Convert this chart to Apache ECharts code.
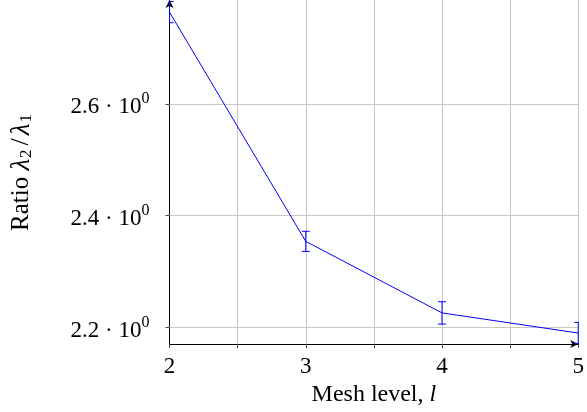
<!DOCTYPE html>
<html>
<head>
<meta charset="utf-8">
<script src="https://cdn.jsdelivr.net/npm/echarts@6/dist/echarts.min.js"></script>
<style>html,body{margin:0;padding:0;background:#fff}#c{width:587px;height:412px}</style>
</head>
<body>
<div id="c"></div>
<script>
const levels = [2, 3, 4, 5];
const ratio = [2.764, 2.354, 2.226, 2.190];
const ratioErr = [0.019, 0.018, 0.020, 0.019];
const yTicks = [2.2, 2.4, 2.6];
const yTickLabels = ['2.2', '2.4', '2.6'];

const FONT = 'Liberation Serif';
const FS = 23;
const chart = echarts.init(document.getElementById('c'), null, {renderer: 'canvas'});

const lineData = levels.map((l, i) => [l, ratio[i]]);
const errData = levels.map((l, i) => [l, ratio[i] - ratioErr[i], ratio[i] + ratioErr[i]]);

chart.setOption({
  animation: false,
  grid: {left: 169, right: 3, top: 0, bottom: 68, containLabel: false},
  xAxis: {
    type: 'value', min: 2, max: 5, interval: 0.5,
    name: 'Mesh level, {it|l}',
    nameLocation: 'middle', nameGap: 35,
    nameTextStyle: {fontFamily: FONT, fontSize: 24, color: '#000',
      rich: {it: {fontFamily: FONT, fontStyle: 'italic', fontSize: 24, color: '#000'}}},
    axisLine: {show: true, lineStyle: {color: '#000', width: 1}, symbol: ['none', 'arrow'], symbolSize: [6, 8], symbolOffset: [0, 0]},
    axisTick: {show: true, inside: false, length: 4, lineStyle: {color: '#444'}},
    axisLabel: {fontFamily: FONT, fontSize: FS, color: '#000', margin: 11,
      formatter: v => (Math.abs(v - Math.round(v)) < 1e-9 ? String(Math.round(v)) : '')},
    splitLine: {show: true, lineStyle: {color: '#c8c8c8', width: 1}}
  },
  yAxis: {
    type: 'value', min: 2.1704, max: 2.7857,
    name: '{n|Ratio }{it|λ}{sub|2}{sl|/}{it|λ}{sub|1}',
    nameLocation: 'middle', nameGap: 134, nameRotate: 90,
    nameTextStyle: {fontFamily: FONT, fontSize: 24, color: '#000',
      rich: {
        it: {fontFamily: FONT, fontStyle: 'italic', fontSize: 27, color: '#000', lineHeight: 28},
        n: {fontFamily: FONT, fontSize: 25, color: '#000', lineHeight: 28},
        sl: {fontFamily: FONT, fontSize: 26, color: '#000', lineHeight: 28, padding: [0, 3, 0, 3]},
        sub: {fontFamily: FONT, fontSize: 17, color: '#000', lineHeight: 16, verticalAlign: 'bottom', padding: [0, 1, 0, 1]}
      }},
    axisLine: {show: true, onZero: false, lineStyle: {color: '#000', width: 1}, symbol: ['none', 'arrow'], symbolSize: [6, 8]},
    axisTick: {show: true, inside: false, length: 4, customValues: yTicks, lineStyle: {color: '#444'}},
    axisLabel: {
      margin: 20, customValues: yTicks,
      formatter: v => {
        const i = yTicks.findIndex(t => Math.abs(t - v) < 1e-6);
        return i < 0 ? '' : '{n|' + yTickLabels[i] + ' · 10}{sup|0}';
      },
      rich: {
        n: {fontFamily: FONT, fontSize: FS, color: '#000', lineHeight: 26, padding: [7, 0, 0, 0]},
        sup: {fontFamily: FONT, fontSize: 16, color: '#000', lineHeight: 16, verticalAlign: 'top'}
      }
    },
    splitLine: {show: false}
  },
  series: [
    {
      type: 'line', data: lineData, symbol: 'none', clip: true,
      lineStyle: {color: '#0000ff', width: 1}, z: 5,
      markLine: {
        silent: true, symbol: 'none', label: {show: false},
        lineStyle: {color: '#c8c8c8', width: 1, type: 'solid'},
        data: yTicks.map(t => ({yAxis: t})), z: 1
      }
    },
    {
      type: 'custom', data: errData, clip: true, z: 6,
      renderItem: (params, api) => {
        const x = api.value(0);
        const lo = api.coord([x, api.value(1)]);
        const hi = api.coord([x, api.value(2)]);
        const w = 4;
        const st = {stroke: '#0000ff', lineWidth: 1};
        return {type: 'group', children: [
          {type: 'line', shape: {x1: lo[0], y1: lo[1], x2: hi[0], y2: hi[1]}, style: st},
          {type: 'line', shape: {x1: lo[0] - w, y1: lo[1], x2: lo[0] + w, y2: lo[1]}, style: st},
          {type: 'line', shape: {x1: hi[0] - w, y1: hi[1], x2: hi[0] + w, y2: hi[1]}, style: st}
        ]};
      }
    }
  ]
});
</script>
</body>
</html>
